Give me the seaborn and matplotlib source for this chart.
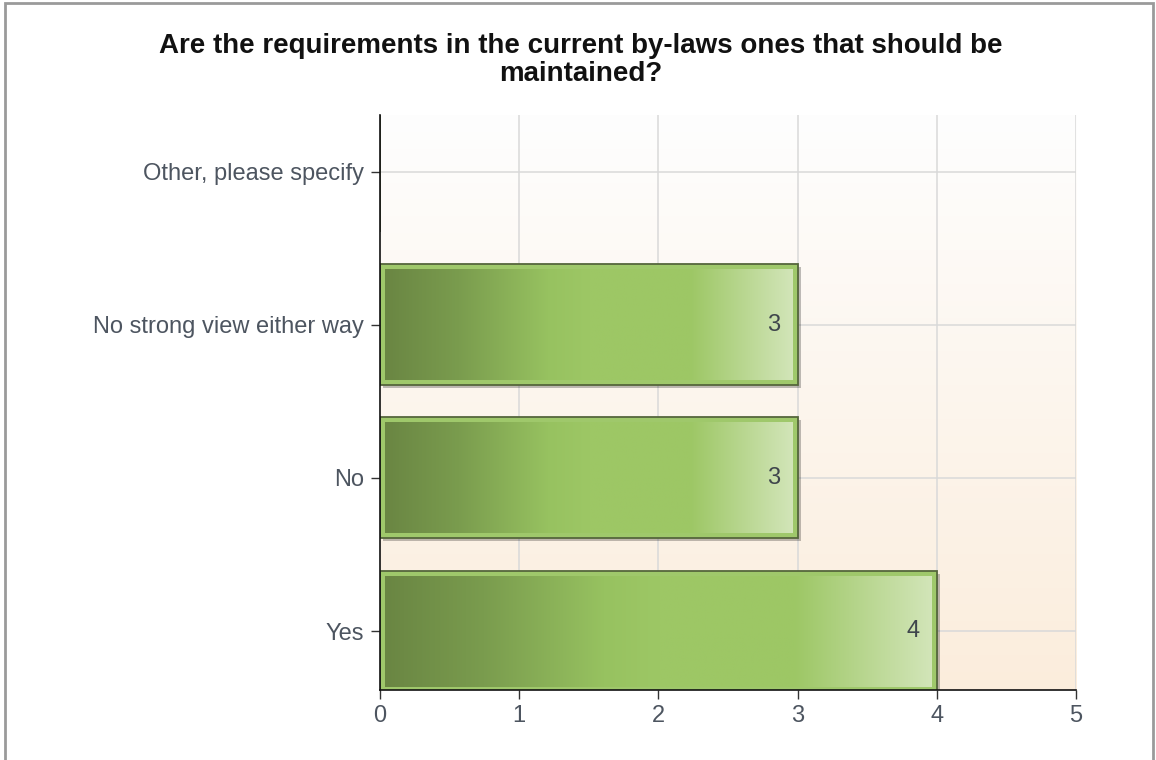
import numpy as np
import pandas as pd
import matplotlib
matplotlib.use("Agg")
import matplotlib.pyplot as plt
from matplotlib.colors import LinearSegmentedColormap
from matplotlib.patches import Rectangle
import seaborn as sns

categories = ["Other, please specify", "No strong view either way", "No", "Yes"]
counts = [0, 3, 3, 4]
x_ticks = [0, 1, 2, 3, 4, 5]
title = "Are the requirements in the current by-laws ones that should be\nmaintained?"

sns.set_theme(style="white")
plt.rcParams["font.family"] = ["Liberation Sans", "DejaVu Sans"]

df = pd.DataFrame({"answer": categories, "count": counts})

fig = plt.figure(figsize=(11.56, 7.6), dpi=100)
ax = fig.add_axes([0.3287, 0.0921, 0.6021, 0.7566])

sns.barplot(data=df, x="count", y="answer", order=categories, orient="h",
            color="#9fc86b", width=0.79, saturation=1, ax=ax, zorder=3,
            edgecolor="#55663c", linewidth=1.3)

ax.set_xlim(0, 5)
ax.set_ylim(3.385, -0.37)

# background gradient
bg = LinearSegmentedColormap.from_list("bg", ["#fefefe", "#fbeddc"])
ax.imshow(np.linspace(0, 1, 256).reshape(-1, 1), cmap=bg, aspect="auto",
          extent=(0, 5, 3.385, -0.37), zorder=0, origin="upper")

# grid
for xv in x_ticks[1:]:
    ax.axvline(xv, color="#d9d9d9", lw=1.1, zorder=1)
for i in range(len(categories)):
    ax.axhline(i, color="#d9d9d9", lw=1.1, zorder=1)

bar_cmap = LinearSegmentedColormap.from_list(
    "bar", [(0, "#6a8643"), (0.18, "#7a9c4e"), (0.4, "#97c260"),
            (0.5, "#9dc765"), (0.75, "#9dc765"), (1.0, "#d2e5b8")])
grad = np.linspace(0, 1, 256).reshape(1, -1)
px_x = 696 / 5.0
px_y = 153.0
for p, v in zip(ax.patches, counts):
    if v <= 0:
        continue
    x0, y0 = p.get_x(), p.get_y()
    w, h = p.get_width(), p.get_height()
    # shadow
    sh = Rectangle((x0 + 3 / px_x, y0 + 3 / px_y), w, h, facecolor="#000000",
                   alpha=0.25, zorder=2, lw=0)
    ax.add_patch(sh)
    ix = 5 / px_x
    iy = 5 / px_y
    ax.imshow(grad, cmap=bar_cmap, aspect="auto",
              extent=(x0 + ix, x0 + w - ix, y0 + h - iy, y0 + iy), zorder=4)
    ax.text(x0 + w - 24 / px_x, y0 + h / 2, f"{v:g}", ha="center", va="center",
            fontsize=17, color="#3f464c", zorder=5)

ax.set_xlim(0, 5)
ax.set_ylim(3.385, -0.37)
ax.set_xticks(x_ticks)
ax.set_xlabel("")
ax.set_ylabel("")
for s in ["top", "right"]:
    ax.spines[s].set_visible(False)
ax.spines["left"].set_color("#111111")
ax.spines["bottom"].set_color("#111111")
ax.spines["left"].set_linewidth(1.2)
ax.spines["bottom"].set_linewidth(1.2)
ax.spines["left"].set_zorder(6)
ax.spines["bottom"].set_zorder(6)
ax.tick_params(axis="both", which="both", length=6.5, width=1, color="#333333",
               labelsize=17, labelcolor="#4d5560", left=True, bottom=True)
ax.tick_params(axis="y", pad=5)
ax.tick_params(axis="x", pad=4)

fig.text(0.502, 0.956, title, ha="center", va="top", fontsize=20,
         fontweight="bold", color="#111111", linespacing=1.1)

fig.add_artist(Rectangle((0.004, -0.01), 0.993, 1.006, transform=fig.transFigure,
                         fill=False, edgecolor="#9a9a9a", lw=2))

fig.savefig("out.png", dpi=100)
